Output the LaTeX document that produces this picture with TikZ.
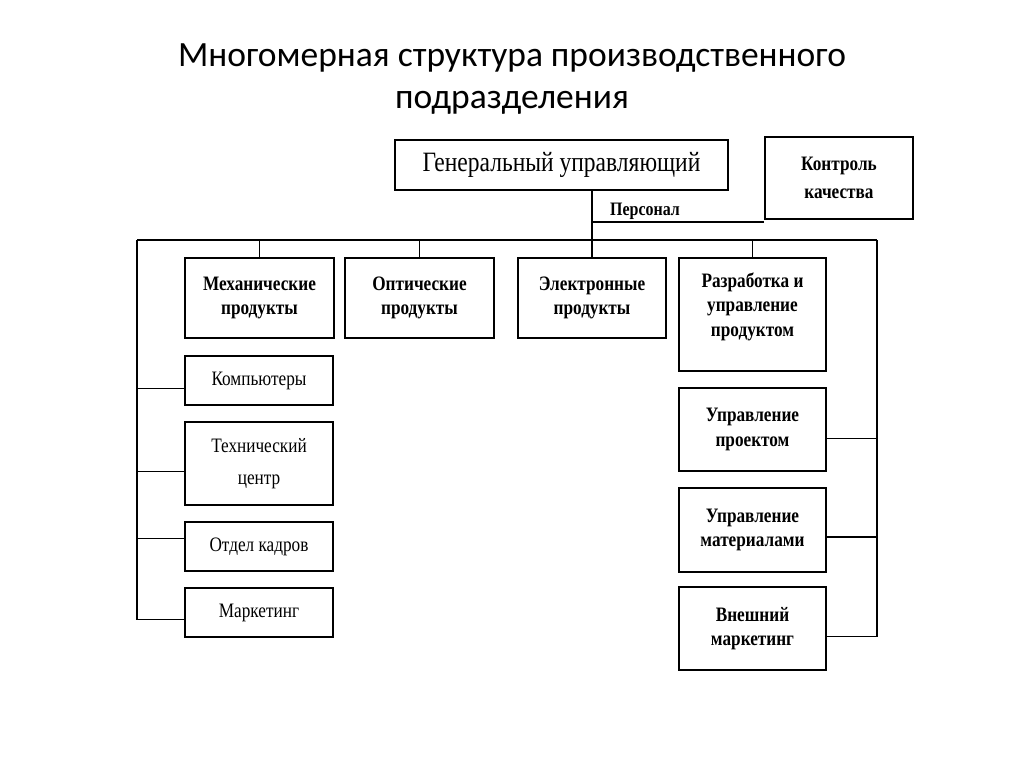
\documentclass[tikz,border=0pt]{standalone}
\usepackage{fontspec}
\setmainfont{Liberation Serif}[FakeStretch=0.84]
\newfontfamily\titlefont{Carlito}
\usepackage{tikz}

\begin{document}
\begin{tikzpicture}[x=1pt,y=-1pt,line width=1.5pt,
  every node/.style={inner sep=0pt,align=center},
  unit/.style={draw,minimum width=148pt,font=\fontsize{20.5}{24.5}\selectfont\bfseries},
  staff/.style={unit,font=\fontsize{20.5}{32}\selectfont}]
\useasboundingbox (0,0) rectangle (1024,767);
\node[font=\titlefont\fontsize{35.5}{42}\selectfont] (title) at (512,79) {Многомерная структура производственного\\подразделения};
\node[draw,minimum width=333pt,minimum height=50pt,font=\fontsize{28}{30}\selectfont] (gm) at (561.5,165) {Генеральный управляющий};
\node[unit,minimum height=82pt,font=\fontsize{20.5}{28}\selectfont\bfseries] (qc) at (839,178) {Контроль\\качества};
\node[unit,minimum width=149pt,minimum height=80pt] (mech) at (259.5,298) {Механические\\продукты};
\node[unit,minimum width=149pt,minimum height=80pt] (opt) at (419.5,298) {Оптические\\продукты};
\node[unit,minimum height=80pt] (el) at (592,298) {Электронные\\продукты};
\node[unit,minimum width=147pt,minimum height=113pt,text depth=20pt] (rd) at (752.5,314.5) {Разработка и\\управление\\продуктом};
\node[staff,minimum height=49pt] (comp) at (259,380.5) {Компьютеры};
\node[staff,minimum height=83pt] (tech) at (259,463.5) {Технический\\центр};
\node[staff,minimum height=49pt] (hr) at (259,546.5) {Отдел кадров};
\node[staff,minimum height=49pt] (mkt) at (259,612.5) {Маркетинг};
\node[unit,minimum width=147pt,minimum height=83pt] (proj) at (752.5,429.5) {Управление\\проектом};
\node[unit,minimum width=147pt,minimum height=84pt] (mat) at (752.5,530) {Управление\\материалами};
\node[unit,minimum width=147pt,minimum height=83pt] (ext) at (752.5,628.5) {Внешний\\маркетинг};
\coordinate (bl) at (137,240);
\coordinate (br) at (877,240);
\coordinate (bs) at (el.north |- bl);
\coordinate (ps) at (592,222);
\draw (gm.south -| bs) -- (bs);
\draw (ps) -- (ps -| qc.south west);
\node[font=\fontsize{19}{22}\selectfont\bfseries] (pers) at (645,211) {Персонал};
\draw (bl) -- (br);
\draw (mech.north) -- (mech.north |- bl);
\draw (opt.north) -- (opt.north |- bl);
\draw (el.north) -- (bs);
\draw (rd.north) -- (rd.north |- bl);
\draw (bl) -- ([yshift=-7pt]bl |- mkt.west) -- ([yshift=-7pt]mkt.west);
\draw ([yshift=-8pt]comp.west) -- ([yshift=-8pt]bl |- comp.west);
\draw ([yshift=-8pt]tech.west) -- ([yshift=-8pt]bl |- tech.west);
\draw ([yshift=8pt]hr.west) -- ([yshift=8pt]bl |- hr.west);
\draw (br) -- ([yshift=-8pt]br |- ext.east) -- ([yshift=-8pt]ext.east);
\draw ([yshift=-9pt]proj.east) -- ([yshift=-9pt]br |- proj.east);
\draw ([yshift=-7pt]mat.east) -- ([yshift=-7pt]br |- mat.east);
\end{tikzpicture}
\end{document}
